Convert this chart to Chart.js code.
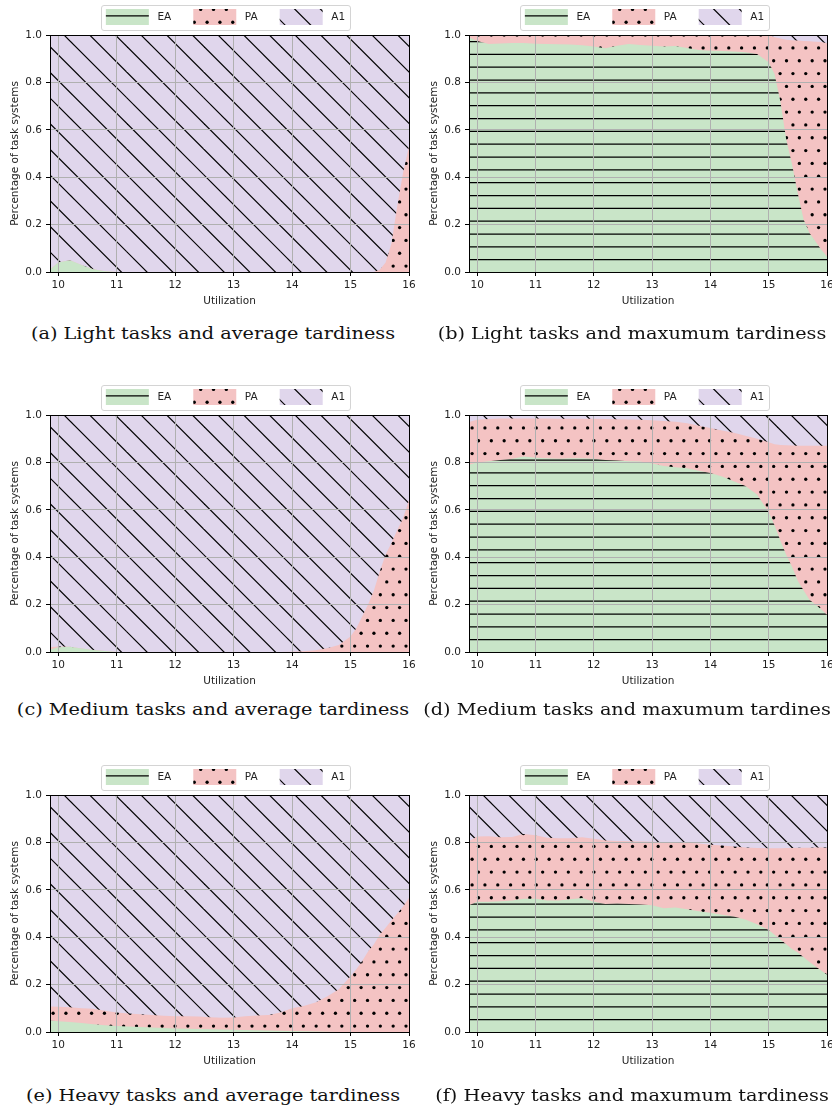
<!DOCTYPE html>
<html>
<head>
<meta charset="utf-8">
<script src="https://cdn.jsdelivr.net/npm/chart.js@4.4.1/dist/chart.umd.min.js"></script>
<style>
  html, body { margin: 0; padding: 0; background: #fff; }
  body { width: 832px; height: 1111px; position: relative; overflow: hidden; }
  canvas.panel { position: absolute; }
  .caption {
    position: absolute; white-space: nowrap;
    font-family: 'DejaVu Serif', serif; font-size: 17px; line-height: 20px; color: #111;
  }
</style>
</head>
<body>
<script>
  // shared x positions of the samples
  const utilization = [9.86, 10.0, 10.2, 10.4, 10.6, 10.8, 11.0, 11.2, 11.4, 11.6, 11.8, 12.0, 12.2, 12.4, 12.6, 12.8,
    13.0, 13.2, 13.4, 13.6, 13.8, 14.0, 14.2, 14.4, 14.6, 14.8, 15.0, 15.1, 15.2, 15.3, 15.4, 15.5, 15.6, 15.7, 15.8, 15.9, 16.0];
  const xTicks = [10, 11, 12, 13, 14, 15, 16];
  const yTicks = [0, 0.2, 0.4, 0.6, 0.8, 1.0];
  const seriesNames = ['EA', 'PA', 'A1'];

  // (a) light tasks, average tardiness
  const lightAvgEA = [0.01, 0.04, 0.05, 0.03, 0.012, 0.003, 0, 0, 0, 0, 0, 0, 0, 0, 0, 0, 0, 0, 0, 0, 0, 0, 0, 0, 0,
    0, 0, 0, 0, 0, 0, 0, 0, 0, 0, 0, 0];
  const lightAvgPA = [0, 0, 0, 0, 0, 0, 0, 0, 0, 0, 0, 0, 0, 0, 0, 0, 0, 0, 0, 0, 0, 0, 0, 0, 0, 0, 0, 0, 0, 0, 0,
    0.01, 0.04, 0.12, 0.28, 0.42, 0.53];
  const lightAvgA1 = [0.99, 0.96, 0.95, 0.97, 0.988, 0.997, 1, 1, 1, 1, 1, 1, 1, 1, 1, 1, 1, 1, 1, 1, 1, 1, 1, 1, 1,
    1, 1, 1, 1, 1, 1, 0.99, 0.96, 0.88, 0.72, 0.58, 0.47];

  // (b) light tasks, maximum tardiness
  const lightMaxEA = [0.99, 0.975, 0.962, 0.964, 0.966, 0.966, 0.963, 0.962, 0.961, 0.96, 0.957, 0.952, 0.944, 0.955,
    0.962, 0.958, 0.955, 0.952, 0.954, 0.945, 0.937, 0.934, 0.932, 0.93, 0.927, 0.92, 0.885, 0.835, 0.72, 0.56, 0.455,
    0.33, 0.22, 0.165, 0.13, 0.095, 0.065];
  const lightMaxPA = [0.01, 0.025, 0.038, 0.036, 0.034, 0.034, 0.037, 0.038, 0.039, 0.04, 0.043, 0.048, 0.056, 0.045,
    0.038, 0.042, 0.045, 0.048, 0.046, 0.055, 0.063, 0.066, 0.068, 0.07, 0.073, 0.08, 0.115, 0.155, 0.265, 0.42, 0.523,
    0.647, 0.755, 0.809, 0.842, 0.875, 0.9];
  const lightMaxA1 = [0, 0, 0, 0, 0, 0, 0, 0, 0, 0, 0, 0, 0, 0, 0, 0, 0, 0, 0, 0, 0, 0, 0, 0, 0, 0, 0,
    0.01, 0.015, 0.02, 0.022, 0.023, 0.025, 0.026, 0.028, 0.03, 0.035];

  // (c) medium tasks, average tardiness
  const medAvgEA = [0.01, 0.02, 0.022, 0.015, 0.008, 0.004, 0, 0, 0, 0, 0, 0, 0, 0, 0, 0, 0, 0, 0, 0, 0, 0, 0, 0, 0,
    0, 0, 0, 0, 0, 0, 0, 0, 0, 0, 0, 0];
  const medAvgPA = [0.01, 0.003, 0, 0, 0, 0, 0, 0, 0, 0, 0, 0, 0, 0, 0, 0, 0, 0, 0, 0, 0, 0.001, 0.003, 0.007, 0.016,
    0.03, 0.065, 0.1, 0.15, 0.2, 0.26, 0.34, 0.41, 0.46, 0.515, 0.565, 0.64];
  const medAvgA1 = [0.98, 0.977, 0.978, 0.985, 0.992, 0.996, 1, 1, 1, 1, 1, 1, 1, 1, 1, 1, 1, 1, 1, 1, 1, 0.999, 0.997,
    0.993, 0.984, 0.97, 0.935, 0.9, 0.85, 0.8, 0.74, 0.66, 0.59, 0.54, 0.485, 0.435, 0.36];

  // (d) medium tasks, maximum tardiness
  const medMaxEA = [0.79, 0.8, 0.805, 0.81, 0.815, 0.825, 0.82, 0.817, 0.815, 0.817, 0.818, 0.815, 0.81, 0.808, 0.805,
    0.804, 0.795, 0.785, 0.78, 0.775, 0.765, 0.755, 0.74, 0.72, 0.7, 0.665, 0.59, 0.535, 0.47, 0.41, 0.36, 0.3, 0.26,
    0.22, 0.2, 0.18, 0.157];
  const medMaxPA = [0.18, 0.18, 0.178, 0.175, 0.17, 0.16, 0.165, 0.168, 0.169, 0.167, 0.166, 0.169, 0.173, 0.174, 0.176,
    0.176, 0.183, 0.19, 0.192, 0.19, 0.19, 0.19, 0.195, 0.205, 0.212, 0.235, 0.295, 0.342, 0.403, 0.462, 0.511, 0.57,
    0.61, 0.65, 0.67, 0.69, 0.713];
  const medMaxA1 = [0.03, 0.02, 0.017, 0.015, 0.015, 0.015, 0.015, 0.015, 0.016, 0.016, 0.016, 0.016, 0.017, 0.018,
    0.019, 0.02, 0.022, 0.025, 0.028, 0.035, 0.045, 0.055, 0.065, 0.075, 0.088, 0.1, 0.115, 0.123, 0.127, 0.128, 0.129,
    0.13, 0.13, 0.13, 0.13, 0.13, 0.13];

  // (e) heavy tasks, average tardiness
  const heavyAvgEA = [0.048, 0.045, 0.042, 0.038, 0.033, 0.028, 0.025, 0.023, 0.021, 0.019, 0.017, 0.015, 0.014, 0.013,
    0.012, 0.011, 0.01, 0.008, 0.007, 0.006, 0.005, 0.004, 0.003, 0.002, 0.001, 0, 0, 0, 0, 0, 0, 0, 0, 0, 0, 0, 0];
  const heavyAvgPA = [0.06, 0.062, 0.062, 0.062, 0.065, 0.062, 0.057, 0.055, 0.054, 0.053, 0.052, 0.051, 0.052, 0.052,
    0.05, 0.049, 0.051, 0.058, 0.063, 0.066, 0.077, 0.096, 0.107, 0.123, 0.149, 0.18, 0.235, 0.265, 0.3, 0.34, 0.37,
    0.41, 0.44, 0.47, 0.5, 0.53, 0.565];
  const heavyAvgA1 = [0.892, 0.893, 0.896, 0.9, 0.902, 0.91, 0.918, 0.922, 0.925, 0.928, 0.931, 0.934, 0.934, 0.935,
    0.938, 0.94, 0.939, 0.934, 0.93, 0.928, 0.918, 0.9, 0.89, 0.875, 0.85, 0.82, 0.765, 0.735, 0.7, 0.66, 0.63, 0.59,
    0.56, 0.53, 0.5, 0.47, 0.435];

  // (f) heavy tasks, maximum tardiness
  const heavyMaxEA = [0.535, 0.55, 0.55, 0.552, 0.555, 0.562, 0.562, 0.555, 0.555, 0.56, 0.565, 0.55, 0.54, 0.542, 0.54,
    0.538, 0.535, 0.522, 0.525, 0.518, 0.51, 0.503, 0.495, 0.487, 0.475, 0.455, 0.43, 0.41, 0.39, 0.37, 0.35, 0.335,
    0.315, 0.295, 0.277, 0.26, 0.242];
  const heavyMaxPA = [0.27, 0.275, 0.276, 0.27, 0.268, 0.273, 0.268, 0.265, 0.263, 0.258, 0.257, 0.265, 0.268, 0.264,
    0.265, 0.266, 0.268, 0.279, 0.275, 0.28, 0.285, 0.287, 0.292, 0.296, 0.304, 0.321, 0.345, 0.365, 0.385, 0.406,
    0.426, 0.442, 0.462, 0.482, 0.501, 0.518, 0.536];
  const heavyMaxA1 = [0.195, 0.175, 0.174, 0.178, 0.177, 0.165, 0.17, 0.18, 0.182, 0.182, 0.178, 0.185, 0.192, 0.194,
    0.195, 0.196, 0.197, 0.199, 0.2, 0.202, 0.205, 0.21, 0.213, 0.217, 0.221, 0.224, 0.225, 0.225, 0.225, 0.224, 0.224,
    0.223, 0.223, 0.223, 0.222, 0.222, 0.222];

  const panels = [
    { caption: '(a) Light tasks and average tardiness', col: 0, row: 0, values: [lightAvgEA, lightAvgPA, lightAvgA1] },
    { caption: '(b) Light tasks and maxumum tardiness', col: 1, row: 0, values: [lightMaxEA, lightMaxPA, lightMaxA1] },
    { caption: '(c) Medium tasks and average tardiness', col: 0, row: 1, values: [medAvgEA, medAvgPA, medAvgA1] },
    { caption: '(d) Medium tasks and maxumum tardiness', col: 1, row: 1, values: [medMaxEA, medMaxPA, medMaxA1] },
    { caption: '(e) Heavy tasks and average tardiness', col: 0, row: 2, values: [heavyAvgEA, heavyAvgPA, heavyAvgA1] },
    { caption: '(f) Heavy tasks and maxumum tardiness', col: 1, row: 2, values: [heavyMaxEA, heavyMaxPA, heavyMaxA1] }
  ];

  const fills = ['#c9e5c8', '#f4c3c3', '#e0d6ec'];
  const hatches = ['-', '.', '\\'];
  const captionBaselines = [338.5, 714.5, 1100.5];
  const INK = '#000';
  const TILE = 77;          // one hatch unit
  const STEP = TILE / 6;

  Chart.defaults.font.family = "'DejaVu Sans', sans-serif";
  Chart.defaults.font.size = 10.5;
  Chart.defaults.color = '#222';

  function makeHatch(ctx, bg, kind) {
    const tile = document.createElement('canvas');
    tile.width = TILE;
    tile.height = TILE;
    const g = tile.getContext('2d');
    g.fillStyle = bg;
    g.fillRect(0, 0, TILE, TILE);
    g.strokeStyle = INK;
    g.fillStyle = INK;
    g.lineWidth = 1.2;
    if (kind === '-') {
      for (let k = 0; k < 6; k++) {
        const v = 0.53 + k * STEP;
        g.beginPath(); g.moveTo(0, v); g.lineTo(TILE, v); g.stroke();
      }
    } else if (kind === '.') {
      for (let j = 0; j < 6; j++) {
        const v = 6.93 + j * STEP;
        const u0 = j % 2 ? 9.5 : 3.1;
        for (let m = -1; m <= 6; m++) {
          g.beginPath(); g.arc(u0 + m * STEP, v, 1.65, 0, Math.PI * 2); g.fill();
        }
      }
    } else {
      const s = TILE / 3;
      for (let n = -4; n <= 4; n++) {
        const c = 20 + n * s;
        g.beginPath(); g.moveTo(c - 10, -10); g.lineTo(c + TILE + 10, TILE + 10); g.stroke();
      }
    }
    return ctx.createPattern(tile, 'repeat');
  }

  // legend frame, hatch anchoring and the four spines
  function framePlugin(patterns) {
    return {
      id: 'frame',
      beforeDraw(chart) {
        const ctx = chart.ctx;
        const { left, bottom } = chart.chartArea;
        patterns.forEach(p => p.setTransform(new DOMMatrix([1, 0, 0, 1, left, bottom])));

        const hb = chart.legend && chart.legend.legendHitBoxes;
        if (!hb || !hb.length) return;
        const first = hb[0], last = hb[hb.length - 1];
        const x1 = Math.round(first.left - 4.5) + 0.5;
        const x2 = Math.round(last.left + last.width + 5) + 0.5;
        const y1 = Math.round(first.top - 3) - 0.5;
        const y2 = Math.round(first.top + first.height + 5) + 0.5;
        ctx.save();
        ctx.beginPath();
        ctx.roundRect(x1, y1, x2 - x1, y2 - y1, 2.5);
        ctx.fillStyle = 'rgba(255,255,255,0.8)';
        ctx.fill();
        ctx.strokeStyle = '#d4d4d4';
        ctx.lineWidth = 1;
        ctx.stroke();
        ctx.restore();
      },
      afterDraw(chart) {
        const { left, top, right, bottom } = chart.chartArea;
        const ctx = chart.ctx;
        ctx.save();
        ctx.strokeStyle = '#000';
        ctx.lineWidth = 1;
        ctx.strokeRect(left + 0.5, top + 0.5, right - left, bottom - top);
        ctx.restore();
      }
    };
  }

  function drawPanel(panel) {
    const canvas = document.createElement('canvas');
    canvas.className = 'panel';
    canvas.width = 451;
    canvas.height = 325;
    canvas.style.width = '451px';
    canvas.style.height = '325px';
    canvas.style.left = (panel.col ? 419 : 0) + 'px';
    canvas.style.top = (-13 + panel.row * 380) + 'px';
    document.body.appendChild(canvas);

    const ctx = canvas.getContext('2d');
    const patterns = fills.map((f, i) => makeHatch(ctx, f, hatches[i]));

    const gridStyle = { color: '#b0b0b0', lineWidth: 1, z: 1, tickLength: 4, tickColor: '#000', tickWidth: 1 };

    new Chart(canvas, {
      type: 'line',
      data: {
        datasets: seriesNames.map((name, i) => ({
          label: name,
          data: utilization.map((u, k) => ({ x: u, y: panel.values[i][k] })),
          backgroundColor: patterns[i],
          borderColor: 'rgba(0,0,0,0)',
          borderWidth: 0,
          pointRadius: 0,
          tension: 0,
          fill: 'origin'
        }))
      },
      options: {
        responsive: false,
        animation: false,
        devicePixelRatio: 1,
        layout: { padding: 0, autoPadding: false },
        plugins: {
          tooltip: { enabled: false },
          legend: {
            position: 'top',
            labels: {
              boxWidth: 43,
              boxHeight: 16,
              padding: 22,
              color: '#222',
              generateLabels(c) {
                const items = Chart.defaults.plugins.legend.labels.generateLabels(c);
                items.forEach(it => { it.text = ' ' + it.text; });
                return items;
              }
            }
          }
        },
        scales: {
          x: {
            type: 'linear',
            min: 9.86,
            max: 16,
            afterBuildTicks: s => { s.ticks = xTicks.map(v => ({ value: v })); },
            afterFit: s => { s.height = 40; },
            grid: gridStyle,
            border: { display: false },
            ticks: { padding: 3, maxRotation: 0, autoSkip: false, callback: v => String(v) },
            title: { display: true, text: 'Utilization', padding: { top: 0, bottom: 4 } }
          },
          y: {
            stacked: true,
            min: 0,
            max: 1,
            afterBuildTicks: s => { s.ticks = yTicks.map(v => ({ value: v })); },
            afterFit: s => { s.width = 50; },
            grid: gridStyle,
            border: { display: false },
            ticks: { padding: 4, callback: v => v.toFixed(1) },
            title: { display: true, text: 'Percentage of task systems', padding: { top: 9, bottom: 0 } }
          },
          yr: {
            type: 'linear',
            position: 'right',
            grid: { display: false },
            border: { display: false },
            ticks: { display: false },
            afterFit: s => { s.width = panel.col ? 43 : 42; }
          }
        }
      },
      plugins: [framePlugin(patterns)]
    });

    const cap = document.createElement('div');
    cap.className = 'caption';
    cap.textContent = panel.caption;
    cap.style.left = (panel.col ? 631.5 : 212.5) + 'px';
    cap.style.top = (captionBaselines[panel.row] - 16) + 'px';
    document.body.appendChild(cap);
    return cap;
  }

  const captions = panels.map(drawPanel);
  // stretch the serif captions to the width of the typeset originals
  const stretch = 364 / captions[0].getBoundingClientRect().width;
  captions.forEach(cap => {
    cap.style.transform = 'translateX(-50%) scaleX(' + stretch.toFixed(3) + ')';
  });
</script>
</body>
</html>
